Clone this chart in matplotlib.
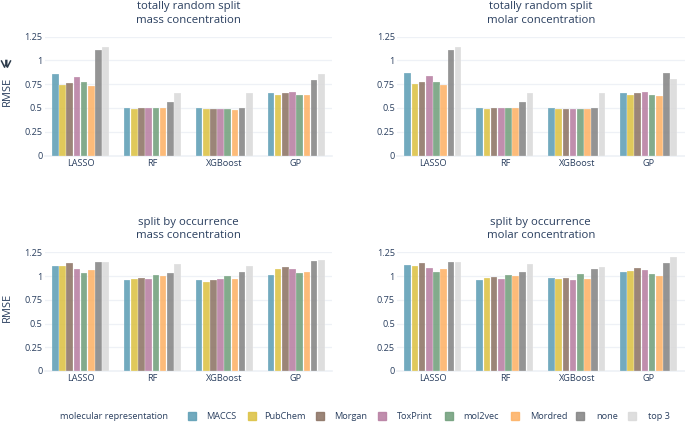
import matplotlib
matplotlib.use('Agg')
import matplotlib.pyplot as plt
import numpy as np
from matplotlib.lines import Line2D
from matplotlib.patches import Rectangle

plt.rcParams['font.family'] = ['Open Sans', 'DejaVu Sans']

models = ['LASSO', 'RF', 'XGBoost', 'GP']
reprs = ['MACCS', 'PubChem', 'Morgan', 'ToxPrint', 'mol2vec', 'Mordred', 'none', 'top 3']
colors = ['#5f9fb5', '#dcc244', '#8d7465', '#b87fa2', '#72a07c', '#fdb266', '#858585', '#dadada']

# one row per model, one column per representation
random_mass = [[.86, .745, .765, .83, .77, .735, 1.105, 1.145],
               [.495, .49, .495, .495, .497, .495, .565, .66],
               [.495, .485, .49, .485, .487, .483, .505, .66],
               [.655, .635, .655, .665, .635, .635, .79, .855]]
random_molar = [[.87, .75, .77, .835, .775, .74, 1.105, 1.145],
                [.495, .49, .497, .497, .497, .497, .565, .66],
                [.495, .49, .49, .49, .485, .487, .505, .66],
                [.655, .64, .655, .665, .637, .63, .87, .805]]
occur_mass = [[1.11, 1.105, 1.135, 1.075, 1.035, 1.065, 1.15, 1.15],
              [.955, .97, .98, .965, 1.01, 1.0, 1.035, 1.125],
              [.96, .94, .96, .965, 1.0, .965, 1.04, 1.105],
              [1.01, 1.075, 1.095, 1.075, 1.035, 1.04, 1.155, 1.17]]
occur_molar = [[1.12, 1.11, 1.14, 1.085, 1.045, 1.075, 1.15, 1.15],
               [.96, .98, .995, .97, 1.015, 1.0, 1.04, 1.125],
               [.98, .965, .975, .96, 1.02, .97, 1.07, 1.095],
               [1.04, 1.055, 1.08, 1.065, 1.025, 1.0, 1.135, 1.2]]

titles = ['totally random split\nmass concentration', 'totally random split\nmolar concentration',
          'split by occurrence\nmass concentration', 'split by occurrence\nmolar concentration']
panels = [random_mass, random_molar, occur_mass, occur_molar]
yticks = [0, 0.25, 0.5, 0.75, 1, 1.25]
ylabs = ['0', '0.25', '0.5', '0.75', '1', '1.25']

W, H = 685, 422
text_col = '#2a3f5f'
fig = plt.figure(figsize=(W / 100, H / 100), dpi=100)

# left, top, right, bottom in pixels
boxes = [(44.5, 36.7, 332, 155.5), (397, 36.7, 684.5, 155.5),
         (44.5, 252.3, 332, 371), (397, 252.3, 684.5, 371)]

for i in range(4):
    l, t, r, b = boxes[i]
    ax = fig.add_axes([l / W, 1 - b / H, (r - l) / W, (b - t) / H])
    vals = np.array(panels[i])
    x = np.arange(len(models))
    w = 0.8 / len(reprs)
    for j in range(len(reprs)):
        ax.bar(x - 0.4 + w * (j + 0.5), vals[:, j], w * 0.92, color=colors[j], alpha=0.88,
               edgecolor='white', linewidth=0.2, zorder=2)
    ax.set_xlim(-0.5, 3.5)
    ax.set_ylim(0, 1.25)
    ax.set_xticks(x)
    ax.set_xticklabels(models)
    ax.set_yticks(yticks)
    ax.set_yticklabels(ylabs)
    ax.tick_params(length=0, labelsize=6.6, labelcolor=text_col)
    ax.tick_params(axis='x', pad=2.5)
    ax.tick_params(axis='y', pad=1.5)
    ax.grid(axis='y', color='#eef1f6', linewidth=0.9, zorder=0)
    ax.set_axisbelow(True)
    for s in ax.spines.values():
        s.set_visible(False)
    ax.axhline(0, color='#eef1f6', linewidth=1.2, zorder=1, clip_on=False)
    ax.set_title(titles[i], fontsize=8.2, color=text_col, pad=10, linespacing=1.35)
    if i % 2 == 0:
        ax.set_ylabel('RMSE', fontsize=8, color=text_col)
        ax.yaxis.set_label_coords(-32 / (r - l), 0.54)

# legend row, placed by hand to sit like the original
fig.text(60 / W, 1 - 416.5 / H, 'molecular representation', fontsize=6.6, color=text_col, va='center')
swatch_x = [188, 248, 316, 378, 445, 511, 576, 628]
label_x = [206, 264, 334, 397, 463, 530, 596, 648]
for k in range(len(reprs)):
    fig.add_artist(Rectangle((swatch_x[k] / W, 1 - 420 / H), 8 / W, 8 / H, color=colors[k], alpha=0.88,
                             transform=fig.transFigure))
    fig.text(label_x[k] / W, 1 - 416.5 / H, reprs[k], fontsize=6.6, color=text_col, va='center')

# little arrow glyph left of the first y axis
fig.text(6 / W, 1 - 64 / H, '\u2b07', fontsize=7.5, color='#2b3a4a', ha='center', va='center',
         family='DejaVu Sans')
for x0, x1 in [(1.5, 4.5), (10.5, 7.5)]:
    fig.add_artist(Line2D([x0 / W, x1 / W], [1 - 61 / H, 1 - 67 / H], color='#2b3a4a', linewidth=1.1))

fig.savefig('out.png', dpi=100)
